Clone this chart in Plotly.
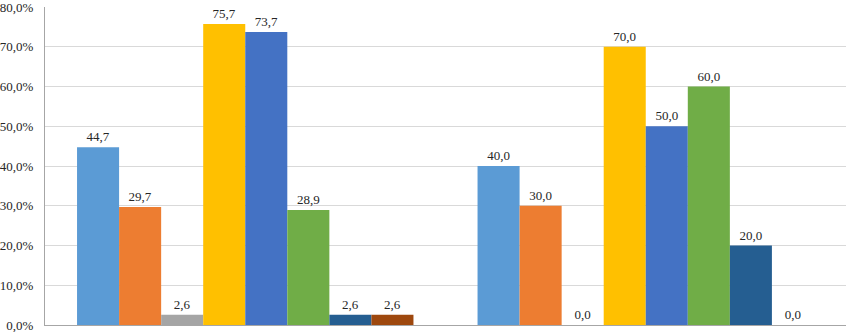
import plotly.graph_objects as go

categories = ["Группа 1", "Группа 2"]
series_names = ["S1", "S2", "S3", "S4", "S5", "S6", "S7", "S8"]
values = [
    [44.7, 40.0],
    [29.7, 30.0],
    [2.6, 0.0],
    [75.7, 70.0],
    [73.7, 50.0],
    [28.9, 60.0],
    [2.6, 20.0],
    [2.6, 0.0],
]
colors = ["#5B9BD5", "#ED7D31", "#A5A5A5", "#FFC000", "#4472C4", "#70AD47", "#255E91", "#9E480E"]
tick_vals = [0, 10, 20, 30, 40, 50, 60, 70, 80]
tick_text = ["0,0%", "10,0%", "20,0%", "30,0%", "40,0%", "50,0%", "60,0%", "70,0%", "80,0%"]

FONT = "Liberation Serif"

fig = go.Figure()
for name, vals, col in zip(series_names, values, colors):
    fig.add_trace(go.Bar(
        x=categories, y=vals, name=name, marker=dict(color=col, line=dict(width=0)),
        text=[f"{v:.1f}".replace(".", ",") for v in vals],
        textposition="outside", cliponaxis=False,
        textfont=dict(family=FONT, size=13, color="#262626"),
    ))

fig.update_layout(
    width=846, height=332,
    margin=dict(l=45, r=0, t=7, b=7),
    barmode="group", bargap=0.16, bargroupgap=0,
    showlegend=False,
    plot_bgcolor="white", paper_bgcolor="white",
    font=dict(family=FONT, size=13, color="#262626"),
)
fig.update_xaxes(showticklabels=False, showline=True, linecolor="#A6A6A6", linewidth=1,
                 ticks="", automargin=False)
fig.update_yaxes(range=[0, 80], tickvals=tick_vals, ticktext=tick_text, automargin=False,
                 ticklabeloverflow="allow",
                 showgrid=True, gridcolor="#D9D9D9", gridwidth=1,
                 showline=True, linecolor="#A6A6A6", linewidth=1, zeroline=False,
                 ticklabelstandoff=8,
                 tickfont=dict(family=FONT, size=13, color="#262626"))

fig.write_html("out.html", config={"displayModeBar": False},
               post_script="document.body.style.margin='0px';")
